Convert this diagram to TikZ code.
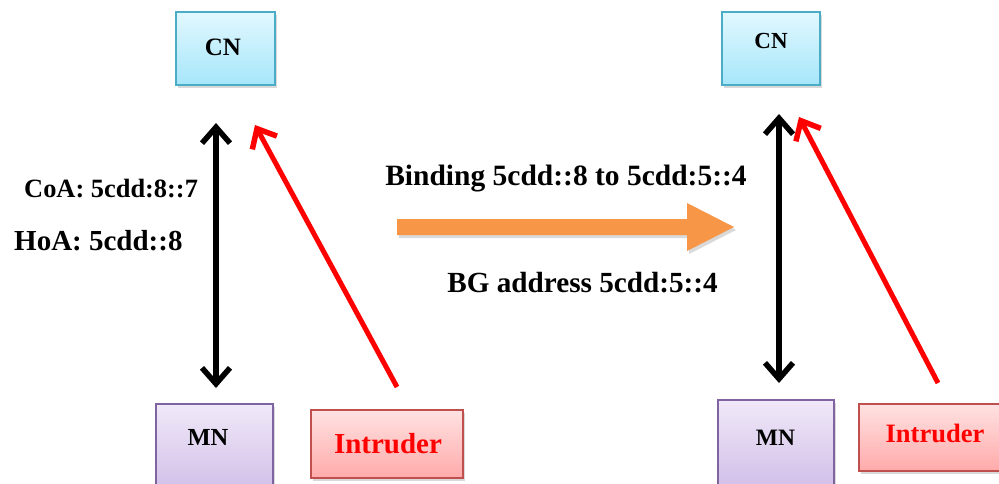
\documentclass[tikz,border=0pt]{standalone}
\usepackage{fontspec}
\setmainfont{Liberation Serif}
\usetikzlibrary{arrows.meta,shadows}
\definecolor{cnfillT}{HTML}{E2F8FF}
\definecolor{cnfillB}{HTML}{A6E6FA}
\definecolor{cnline}{HTML}{4BACC6}
\definecolor{mnfillT}{HTML}{F0E9F8}
\definecolor{mnfillB}{HTML}{CDB9E6}
\definecolor{mnline}{HTML}{8064A2}
\definecolor{infillT}{HTML}{FFE2E2}
\definecolor{infillB}{HTML}{FFAAAA}
\definecolor{inline}{HTML}{C0504D}
\definecolor{orangearr}{HTML}{F79646}
\tikzset{
  boxbase/.style={draw, line width=1.5pt, minimum width=#1, inner sep=0pt,
    drop shadow={shadow xshift=2pt, shadow yshift=-3pt, opacity=0.3}},
  cnbox/.style={boxbase=99pt, minimum height=73pt, top color=cnfillT, bottom color=cnfillB, draw=cnline},
  mnbox/.style={boxbase=#1, minimum height=100pt, top color=mnfillT, bottom color=mnfillB, draw=mnline},
  inbox/.style={boxbase=#1, top color=infillT, bottom color=infillB, draw=inline},
  lbl/.style={font=\bfseries, inner sep=0pt, anchor=base},
  barbtip/.tip={Straight Barb[length=16pt,width=28pt,line width=5.5pt]},
  blackarr/.style={line width=5.5pt, black, barbtip-barbtip},
  redarr/.style={line width=5pt, red, -barbtip},
}
\begin{document}
\begin{tikzpicture}[x=1pt,y=-1pt]
\useasboundingbox (0,0) rectangle (999,483);
% Left side boxes
\node[cnbox] (cnL) at (225.5,48.5) {};
\node[lbl, font=\bfseries\fontsize{25}{26}\selectfont] (cnLt) at (223,55) {CN};
\node[mnbox=117pt, anchor=north west] (mnL) at (155,403) {};
\node[lbl, font=\bfseries\fontsize{24.5}{26}\selectfont] (mnLt) at (208,445) {MN};
\node[inbox=152pt, minimum height=68pt, anchor=north west] (inL) at (310,409) {};
\node[lbl, text=red, font=\bfseries\fontsize{29}{30}\selectfont] (inLt) at (388,453) {Intruder};
% Right side boxes
\node[cnbox, minimum width=98pt] (cnR) at (771,48.5) {};
\node[lbl, font=\bfseries\fontsize{23}{24}\selectfont] (cnRt) at (771,48) {CN};
\node[mnbox=116pt, anchor=north west] (mnR) at (717,399) {};
\node[lbl, font=\bfseries\fontsize{23.5}{25}\selectfont] (mnRt) at (775.5,445) {MN};
\node[inbox=160pt, minimum height=67pt, anchor=north west] (inR) at (858,403) {};
\node[lbl, text=red, font=\bfseries\fontsize{26.5}{28}\selectfont] (inRt) at (935,442) {Intruder};
% Labels
\node[lbl, anchor=base west, font=\bfseries\fontsize{26.4}{28}\selectfont] (coa) at (24,197) {CoA: 5cdd:8::7};
\node[lbl, anchor=base west, font=\bfseries\fontsize{29}{30}\selectfont] (hoa) at (14,250) {HoA: 5cdd::8};
\node[lbl, font=\bfseries\fontsize{29.5}{30}\selectfont] (bind) at (566,185) {Binding 5cdd::8 to 5cdd:5::4};
\node[lbl, font=\bfseries\fontsize{29.2}{30}\selectfont] (bg) at (582.5,292) {BG address 5cdd:5::4};
% Arrow end points
\coordinate (bLt) at (216,123);
\coordinate (bLb) at (216,388);
\coordinate (rLt) at (255,125);
\coordinate (rLb) at (397,387);
\coordinate (bRt) at (779,114);
\coordinate (bRb) at (779,383);
\coordinate (rRt) at (799,117);
\coordinate (rRb) at (938,383);
\draw[blackarr] (bLb) -- (bLt);
\draw[redarr] (rLb) -- (rLt);
\draw[blackarr] (bRb) -- (bRt);
\draw[redarr] (rRb) -- (rRt);
% Orange block arrow
\fill[orangearr, drop shadow={shadow xshift=2pt, shadow yshift=-3pt, opacity=0.3}]
  (397,219) -- (687,219) -- (687,203) -- (734,227) -- (687,251) -- (687,235) -- (397,235) -- cycle;
\end{tikzpicture}
\end{document}
